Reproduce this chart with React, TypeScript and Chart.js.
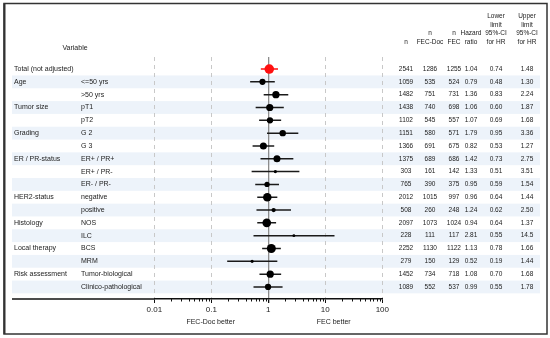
import React, { useEffect, useRef } from "react";
import { Chart, registerables } from "chart.js";

Chart.register(...registerables);

const groups = ["Total (not adjusted)", "Age", "", "Tumor size", "", "Grading", "", "ER / PR-status", "", "", "HER2-status", "", "Histology", "", "Local therapy", "", "Risk assessment", ""];
const subgroups = ["", "<=50 yrs", ">50 yrs", "pT1", "pT2", "G 2", "G 3", "ER+ / PR+", "ER+ / PR-", "ER- / PR-", "negative", "positive", "NOS", "ILC", "BCS", "MRM", "Tumor-biological", "Clinico-pathological"];
const nTotal = [2541, 1059, 1482, 1438, 1102, 1151, 1366, 1375, 303, 765, 2012, 508, 2097, 228, 2252, 279, 1452, 1089];
const nFecDoc = [1286, 535, 751, 740, 545, 580, 691, 689, 161, 390, 1015, 260, 1073, 111, 1130, 150, 734, 552];
const nFec = [1255, 524, 731, 698, 557, 571, 675, 686, 142, 375, 997, 248, 1024, 117, 1122, 129, 718, 537];
const hazard = [1.04, 0.79, 1.36, 1.06, 1.07, 1.79, 0.82, 1.42, 1.33, 0.95, 0.96, 1.24, 0.94, 2.81, 1.13, 0.52, 1.08, 0.99];
const lower = [0.74, 0.48, 0.83, 0.60, 0.69, 0.95, 0.53, 0.73, 0.51, 0.59, 0.64, 0.62, 0.64, 0.55, 0.78, 0.19, 0.70, 0.55];
const upper = [1.48, 1.30, 2.24, 1.87, 1.68, 3.36, 1.27, 2.75, 3.51, 1.54, 1.44, 2.50, 1.37, 14.5, 1.66, 1.44, 1.68, 1.78];
const xTickValues = [0.01, 0.1, 1, 10, 100];
const xTickLabels = ["0.01", "0.1", "1", "10", "100"];
const headers = [
  ["n"],
  ["n", "FEC-Doc"],
  ["n", "FEC"],
  ["Hazard", "ratio"],
  ["Lower", "limit", "95%-CI", "for HR"],
  ["Upper", "limit", "95%-CI", "for HR"],
];
const favourLeft = "FEC-Doc better";
const favourRight = "FEC better";

const FONT = "'Liberation Sans', Arial, sans-serif";
const RED = "#ff1010";
const DARK = "#1a1a1a";

const fmt = (v: number) => (v >= 10 ? v.toPrecision(3) : v.toFixed(2));

export default function App() {
  const ref = useRef<HTMLCanvasElement>(null);

  useEffect(() => {
    document.body.style.margin = "0";
    const canvas = ref.current!;

    const pts = hazard.map((v, i) => ({ x: v, y: i }));
    const ci: any[] = [];
    lower.forEach((l, i) => {
      ci.push({ x: l, y: i }, { x: upper[i], y: i }, { x: null, y: null });
    });

    const tablePlugin = {
      id: "tablePlugin",
      beforeDraw(chart: any) {
        const ctx = chart.ctx;
        const ys = chart.scales.y;
        ctx.save();
        ctx.fillStyle = "#ffffff";
        ctx.fillRect(0, 0, chart.width, chart.height);
        const half = Math.abs(ys.getPixelForValue(1) - ys.getPixelForValue(0)) / 2;
        ctx.fillStyle = "#edf3fa";
        subgroups.forEach((_, i) => {
          if (i % 2 === 1) {
            const y = ys.getPixelForValue(i);
            ctx.fillRect(12, y - half, 528, half * 2);
          }
        });
        ctx.restore();
      },
      afterDraw(chart: any) {
        const ctx = chart.ctx;
        const xs = chart.scales.x;
        const ys = chart.scales.y;
        const area = chart.chartArea;
        ctx.save();
        // axis extension to left
        ctx.strokeStyle = "#111";
        ctx.lineWidth = 1.5;
        ctx.beginPath();
        ctx.moveTo(12, area.bottom);
        ctx.lineTo(area.left, area.bottom);
        ctx.stroke();
        // minor ticks
        ctx.lineWidth = 1;
        for (let d = 0; d < xTickValues.length - 1; d++) {
          for (let m = 2; m <= 9; m++) {
            const x = Math.round(xs.getPixelForValue(xTickValues[d] * m)) + 0.5;
            ctx.beginPath();
            ctx.moveTo(x, area.bottom);
            ctx.lineTo(x, area.bottom + 2.5);
            ctx.stroke();
          }
        }
        // favour labels
        ctx.fillStyle = "#222";
        ctx.font = `7px ${FONT}`;
        ctx.textAlign = "center";
        ctx.textBaseline = "middle";
        ctx.fillText(favourLeft, 210.7, 322);
        ctx.fillText(favourRight, 333.7, 322);

        // row labels
        ctx.font = `7px ${FONT}`;
        ctx.textAlign = "left";
        subgroups.forEach((s, i) => {
          const y = ys.getPixelForValue(i);
          if (groups[i]) ctx.fillText(groups[i], 14, y);
          if (s) ctx.fillText(s, 81, y);
        });
        ctx.textAlign = "center";
        ctx.fillText("Variable", 75, 47.7);

        // table
        const colX = [406, 430, 454, 471, 496, 527];
        const cols = [
          nTotal.map(String),
          nFecDoc.map(String),
          nFec.map(String),
          hazard.map(fmt),
          lower.map(fmt),
          upper.map(fmt),
        ];
        ctx.font = `6.5px ${FONT}`;
        ctx.textAlign = "center";
        cols.forEach((col, c) => {
          col.forEach((t, i) => ctx.fillText(t, colX[c], ys.getPixelForValue(i)));
          const h = headers[c];
          h.forEach((t, k) => {
            ctx.fillText(t, colX[c], 42.3 - (h.length - 1 - k) * 8.7);
          });
        });

        // frame
        ctx.strokeStyle = "#333";
        ctx.lineWidth = 2;
        ctx.beginPath();
        ctx.moveTo(4.5, 3.5);
        ctx.lineTo(4.5, 334);
        ctx.stroke();
        ctx.lineWidth = 1.5;
        ctx.strokeRect(4, 3.5, 543, 330.5);
        ctx.restore();
      },
    };

    const chart = new Chart(canvas, {
      type: "line",
      data: {
        datasets: [
          {
            data: pts,
            showLine: false,
            pointRadius: nTotal.map((n) => 0.095 * Math.sqrt(n)),
            pointBackgroundColor: nTotal.map((_, i) => (i === 0 ? RED : "#000")),
            pointBorderWidth: 0,
            order: 0,
          } as any,
          {
            data: ci,
            borderColor: DARK,
            borderWidth: 1.5,
            pointRadius: 0,
            spanGaps: false,
            segment: {
              borderColor: (c: any) => (c.p0DataIndex === 0 ? RED : DARK),
            },
            order: 1,
          } as any,
        ],
      },
      options: {
        animation: false,
        responsive: false,
        devicePixelRatio: 1,
        events: [],
        layout: { padding: { left: 154.3, right: 167.7, top: 57, bottom: 0 } },
        plugins: { legend: { display: false }, tooltip: { enabled: false } },
        scales: {
          x: {
            type: "logarithmic",
            min: 0.01,
            max: 100,
            afterBuildTicks: (s: any) => {
              s.ticks = xTickValues.map((v) => ({ value: v }));
            },
            afterFit: (s: any) => {
              s.height = 39;
            },
            ticks: {
              autoSkip: false,
              maxRotation: 0,
              padding: 2,
              color: "#222",
              font: { family: FONT, size: 8 },
              callback: (v: any) => {
                const idx = xTickValues.indexOf(Number(v));
                return idx >= 0 ? xTickLabels[idx] : "";
              },
            },
            grid: {
              color: (c: any) => (c.tick && c.tick.value === 1 ? "#8c8c8c" : "#c8c8c8"),
              lineWidth: (c: any) => (c.tick && c.tick.value === 1 ? 1.3 : 1),
              tickColor: "#111",
              tickLength: 4,
            },
            border: {
              display: true,
              color: "#111",
              width: 1.5,
              dash: (c: any) => (c.tick && c.tick.value !== 1 ? [4, 4] : []),
            },
          } as any,
          y: {
            type: "linear",
            min: -0.94,
            max: 17.94,
            reverse: true,
            display: false,
          },
        },
      },
      plugins: [tablePlugin],
    });
    return () => chart.destroy();
  }, []);

  return <canvas ref={ref} width={550} height={338} style={{ display: "block" }} />;
}
